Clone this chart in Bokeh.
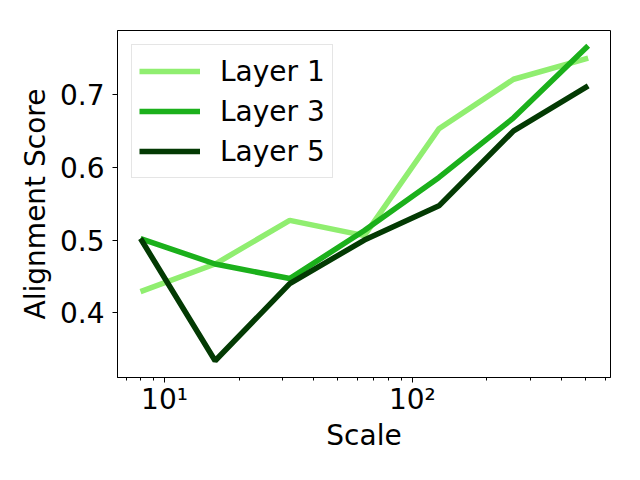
from bokeh.plotting import figure
from bokeh.models import Range1d, FixedTicker, CustomJSTickFormatter, Legend, LegendItem
from bokeh.embed import file_html
from bokeh.resources import INLINE

scales = [8, 16, 32, 64, 128, 256, 512]
layer1 = [0.429, 0.467, 0.527, 0.506, 0.653, 0.721, 0.750]
layer3 = [0.502, 0.467, 0.447, 0.513, 0.586, 0.668, 0.767]
layer5 = [0.502, 0.334, 0.440, 0.500, 0.547, 0.650, 0.712]
series_names = ["Layer 1", "Layer 3", "Layer 5"]
colors = ["#90ee70", "#1bb01b", "#033a03"]
y_ticks = [0.4, 0.5, 0.6, 0.7]
x_major = [10, 100]
x_minor = [7, 8, 9, 20, 30, 40, 50, 60, 70, 80, 90, 200, 300, 400, 500, 600]

FONT = "DejaVu Sans"

p = figure(width=640, height=480, x_axis_type="log",
           output_backend="svg", toolbar_location=None,
           x_range=Range1d(6.46, 630), y_range=Range1d(0.311, 0.788),
           min_border_left=117, min_border_top=30, min_border_right=30,
           min_border_bottom=103)
p.background_fill_color = "white"
p.border_fill_color = "white"
p.outline_line_color = "black"
p.outline_line_alpha = 1.0
p.outline_line_width = 1
p.xgrid.visible = False
p.ygrid.visible = False

renderers = []
for vals, col in zip([layer1, layer3, layer5], colors):
    r = p.line(scales, vals, line_color=col, line_width=5.5)
    renderers.append(r)

p.xaxis.ticker = FixedTicker(ticks=x_major, minor_ticks=x_minor)
p.xaxis.formatter = CustomJSTickFormatter(code="""
const e = Math.round(Math.log10(tick));
const sup = {0:'\u2070',1:'\u00b9',2:'\u00b2',3:'\u00b3'};
return '10' + sup[e];
""")
p.yaxis.ticker = FixedTicker(ticks=y_ticks)

for ax in [p.xaxis[0], p.yaxis[0]]:
    ax.major_label_text_font = FONT
    ax.major_label_text_font_size = "28px"
    ax.major_label_text_color = "black"
    ax.axis_label_text_font = FONT
    ax.axis_label_text_font_size = "28px"
    ax.axis_label_text_font_style = "normal"
    ax.axis_label_text_color = "black"
    ax.axis_line_color = "black"
    ax.major_tick_line_color = "black"
    ax.major_tick_out = 5
    ax.major_tick_in = 0
    ax.minor_tick_out = 3
    ax.minor_tick_in = 0

p.yaxis.minor_tick_line_color = None
p.xaxis.minor_tick_line_color = "black"
p.xaxis.major_label_standoff = 0
p.yaxis.major_label_standoff = 8
p.xaxis.axis_label = "Scale"
p.yaxis.axis_label = "Alignment Score"
p.xaxis.axis_label_standoff = 0
p.yaxis.axis_label_standoff = 5

legend = Legend(items=[LegendItem(label=n, renderers=[r]) for n, r in zip(series_names, renderers)],
                location="top_left")
legend.label_text_font = FONT
legend.label_text_font_size = "28px"
legend.label_text_color = "black"
legend.glyph_width = 61
legend.glyph_height = 38
legend.label_height = 38
legend.label_standoff = 20
legend.spacing = 2
legend.padding = 7
legend.margin = 14
legend.border_line_color = "#cccccc"
legend.border_line_width = 1
legend.background_fill_alpha = 0.8
p.add_layout(legend)

open("out.html", "w").write(file_html(p, INLINE))
